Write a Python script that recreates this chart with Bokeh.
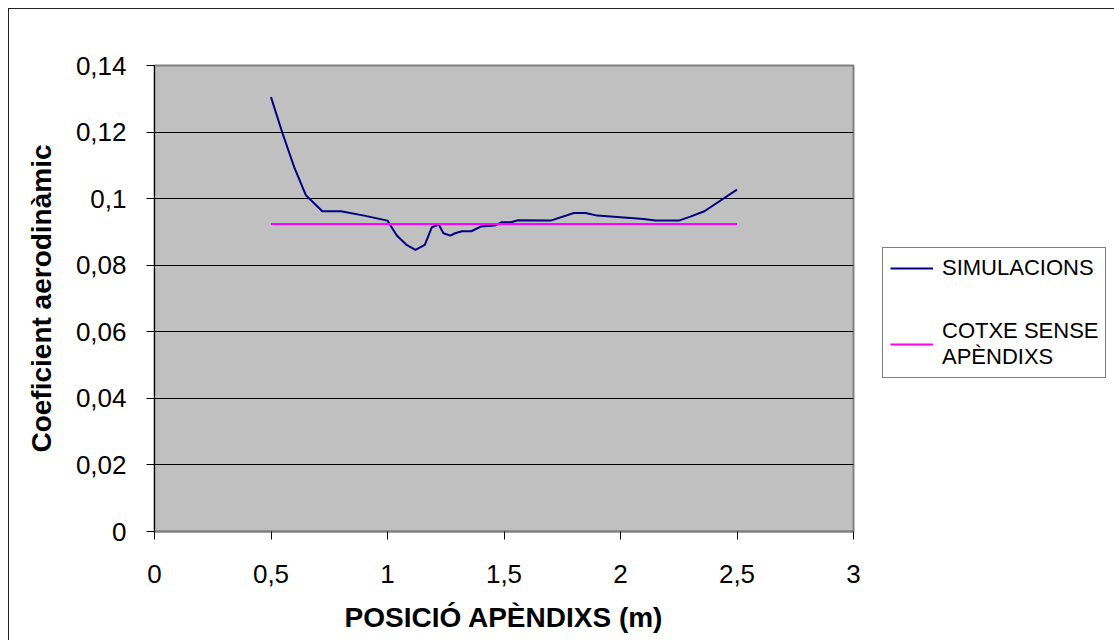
from bokeh.plotting import figure
from bokeh.layouts import row
from bokeh.models import (Range1d, FixedTicker, CustomJSTickFormatter, Legend, LegendItem)
from bokeh.embed import file_html
from bokeh.resources import INLINE

# ---- data ----
x_sim = [0.5, 0.55, 0.6, 0.65, 0.72, 0.8, 0.9, 1.0, 1.04, 1.08, 1.12, 1.16,
         1.19, 1.22, 1.24, 1.27, 1.29, 1.32, 1.36, 1.4, 1.46, 1.49, 1.53, 1.56,
         1.7, 1.8, 1.85, 1.9, 2.1, 2.15, 2.25, 2.3, 2.36, 2.5]
y_sim = [0.1305, 0.1195, 0.1094, 0.101, 0.0962, 0.0962, 0.0949, 0.0934, 0.0889,
         0.0862, 0.0846, 0.0861, 0.0914, 0.0922, 0.0896, 0.0889, 0.0896, 0.0902,
         0.0902, 0.0916, 0.0919, 0.0929, 0.0929, 0.0935, 0.0934, 0.0957, 0.0957,
         0.0949, 0.0939, 0.0934, 0.0934, 0.0946, 0.0962, 0.1027]
x_ref = [0.5, 2.5]
y_ref = [0.0924, 0.0924]
x_ticks = [0, 0.5, 1, 1.5, 2, 2.5, 3]
y_ticks = [0, 0.02, 0.04, 0.06, 0.08, 0.1, 0.12, 0.14]
series_names = ["SIMULACIONS", "COTXE SENSE\nAPÈNDIXS"]
x_title = "POSICIÓ APÈNDIXS (m)"
y_title = "Coeficient aerodinàmic"

FONT = "Liberation Sans"
C_SIM = "#000080"
C_REF = "#FF00FF"

p = figure(width=874, height=632, output_backend="svg", toolbar_location=None,
           x_range=Range1d(0, 3), y_range=Range1d(0, 0.14),
           min_border_left=145, min_border_right=30, min_border_top=56,
           min_border_bottom=110,
           margin=(8, 0, 0, 8),
           styles={"border-left": "1px solid #222", "border-top": "1px solid #222"})
p.background_fill_color = "#C0C0C0"
p.border_fill_color = "white"
p.outline_line_color = "#808080"
p.outline_line_width = 2

p.xgrid.grid_line_color = None
p.ygrid.grid_line_color = "black"
p.ygrid.grid_line_width = 1
p.ygrid.ticker = FixedTicker(ticks=y_ticks)

fmt = CustomJSTickFormatter(code="""
    if (Math.abs(tick) < 1e-9) return "0";
    return String(+tick.toFixed(2)).replace(".", ",");
""")

p.xaxis.ticker = FixedTicker(ticks=x_ticks)
p.yaxis.ticker = FixedTicker(ticks=y_ticks)
for ax in (p.xaxis[0], p.yaxis[0]):
    ax.formatter = fmt
    ax.major_tick_in = 0
    ax.major_tick_out = 8
    ax.minor_tick_line_color = None
    ax.major_tick_line_color = "black"
    ax.major_label_text_font = FONT
    ax.major_label_text_font_size = "26px"
    ax.major_label_text_color = "black"
    ax.axis_label_text_font = FONT
    ax.axis_label_text_font_size = "28px"
    ax.axis_label_text_font_style = "bold"
    ax.axis_label_text_color = "black"
p.xaxis.axis_line_color = "#808080"
p.xaxis.axis_line_width = 2
p.yaxis.axis_line_color = "black"
p.xaxis.major_label_standoff = 25
p.yaxis.major_label_standoff = 20
p.xaxis.axis_label = x_title
p.yaxis.axis_label = y_title
p.xaxis.axis_label_standoff = 16
p.yaxis.axis_label_standoff = 16

p.line(x_sim, y_sim, line_color=C_SIM, line_width=2)
p.line(x_ref, y_ref, line_color=C_REF, line_width=2)

# legend panel (separate figure so it is not clipped by the plot frame);
# its ranges are far from the data so the lines themselves stay out of view
q = figure(width=240, height=632, output_backend="svg", toolbar_location=None,
           x_range=Range1d(10, 11), y_range=Range1d(10, 11),
           x_axis_location=None, y_axis_location=None,
           min_border=0, margin=(8, 0, 0, 0),
           styles={"border-top": "1px solid #222"})
q.grid.visible = False
q.outline_line_color = None
q.background_fill_color = "white"
q.border_fill_color = "white"
g1 = q.line(x_sim, y_sim, line_color=C_SIM, line_width=2)
g2 = q.line(x_ref, y_ref, line_color=C_REF, line_width=2)

legend = Legend(items=[LegendItem(label=series_names[0], renderers=[g1]),
                       LegendItem(label=series_names[1], renderers=[g2])],
                location=(0, 153))
legend.label_text_font = FONT
legend.label_text_font_size = "22px"
legend.label_text_color = "black"
legend.glyph_width = 43
legend.glyph_height = 26
legend.label_standoff = 9
legend.spacing = 37
legend.padding = 7
legend.margin = 0
legend.border_line_color = "black"
legend.border_line_width = 1
legend.background_fill_color = "white"
legend.background_fill_alpha = 1
q.add_layout(legend, "center")

layout = row(p, q)
open("out.html", "w").write(file_html(layout, INLINE))
